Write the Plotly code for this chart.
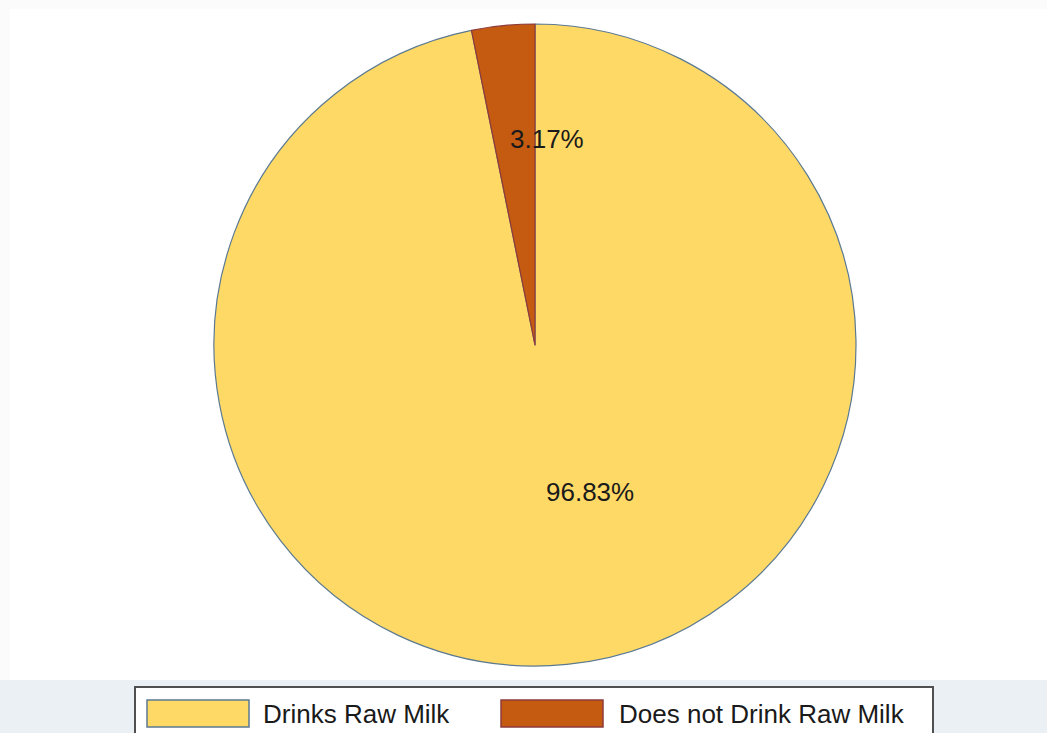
import math
import plotly.graph_objects as go

# Survey responses: share of respondents by raw-milk consumption
categories = ["Drinks Raw Milk", "Does not Drink Raw Milk"]
shares = [96.83, 3.17]
percent_labels = ["96.83%", "3.17%"]

# Styling
slice_colors = ["#FFD966", "#C55A11"]
slice_edges = ["#5B7A92", "#8E3B3B"]
label_radius = [0.46, 0.645]          # fraction of the pie radius where each label sits
label_font = dict(family="Liberation Sans, Arial, sans-serif", size=26, color="#1a1a1a")

W, H = 1047, 733
cx, cy, R = 535, 345, 321             # pie centre and radius in pixels


def px(x):
    return x / W


def py(y):
    return 1 - y / H


fig = go.Figure()
fig.add_trace(go.Pie(
    labels=categories,
    values=shares,
    sort=False,
    direction="clockwise",
    rotation=0,
    textinfo="none",
    hoverinfo="label+percent",
    marker=dict(colors=slice_colors, line=dict(color=slice_edges, width=1.2)),
    domain=dict(x=[px(cx - R), px(cx + R)], y=[py(cy + R), py(cy - R)]),
    showlegend=False,
))

# Percentage labels placed along each slice's mid-angle
total = sum(shares)
start = 0.0
annotations = []
for val, txt, rf in zip(shares, percent_labels, label_radius):
    frac = val / total
    mid = (start + frac / 2) * 2 * math.pi   # clockwise from 12 o'clock
    start += frac
    r = rf * R
    x = cx + r * math.sin(mid)
    y = cy - r * math.cos(mid)
    annotations.append(dict(
        x=px(x), y=py(y), xref="paper", yref="paper",
        text=txt, showarrow=False, xanchor="left", yanchor="middle",
        xshift=-6, font=label_font,
    ))

# Legend panel along the bottom
shapes = [
    dict(type="rect", xref="paper", yref="paper", x0=0, x1=1, y0=py(733), y1=py(680),
         fillcolor="#EAF0F3", line=dict(width=0), layer="below"),
    dict(type="rect", xref="paper", yref="paper", x0=0, x1=1, y0=py(9), y1=1,
         fillcolor="#FBFBFC", line=dict(width=0), layer="below"),
    dict(type="rect", xref="paper", yref="paper", x0=0, x1=px(10), y0=py(680), y1=1,
         fillcolor="#FBFBFC", line=dict(width=0), layer="below"),
    dict(type="rect", xref="paper", yref="paper", x0=px(135), x1=px(933), y0=py(745), y1=py(687),
         fillcolor="white", line=dict(color="#505050", width=2), layer="below"),
]

swatch_x = [147, 501]
text_x = [261, 617]
for name, col, edge, sx, tx in zip(categories, slice_colors, slice_edges, swatch_x, text_x):
    shapes.append(dict(type="rect", xref="paper", yref="paper",
                       x0=px(sx), x1=px(sx + 102), y0=py(727), y1=py(700),
                       fillcolor=col, line=dict(color=edge, width=1.5)))
    annotations.append(dict(x=px(tx), y=py(714), xref="paper", yref="paper",
                            text=name, showarrow=False, xanchor="left", yanchor="middle",
                            font=label_font))

fig.update_layout(
    width=W, height=H,
    margin=dict(l=0, r=0, t=0, b=0),
    paper_bgcolor="white",
    plot_bgcolor="white",
    shapes=shapes,
    annotations=annotations,
)

fig.write_html("out.html")
